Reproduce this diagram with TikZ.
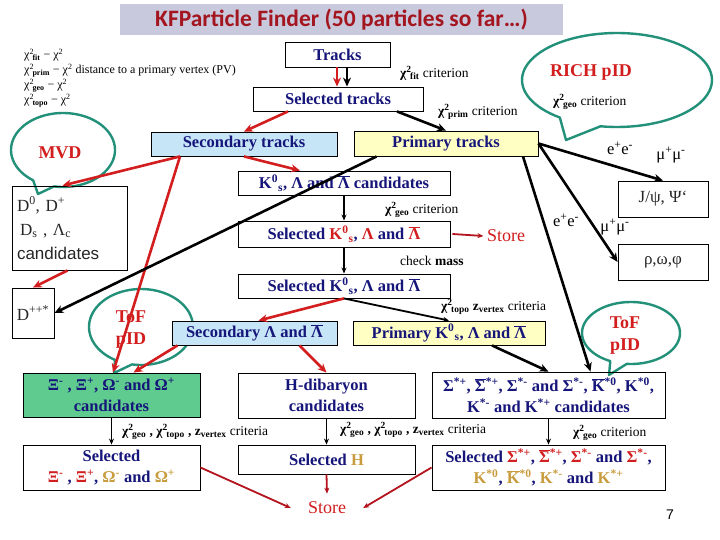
\documentclass[tikz,border=0pt]{standalone}
\usepackage{fontspec}
\setmainfont{Liberation Serif}
\newfontfamily\sansf{Liberation Sans}
\newfontfamily\titlef{Carlito}
\usetikzlibrary{arrows.meta,calc}
\definecolor{navy}{HTML}{16167A}
\definecolor{tred}{HTML}{D21E1E}
\definecolor{dred}{HTML}{B4141E}
\definecolor{gold}{HTML}{C89B3C}
\definecolor{bubblec}{HTML}{23917A}
\definecolor{lblue}{HTML}{C6E6F8}
\definecolor{lyell}{HTML}{FFFFC4}
\definecolor{lgreen}{HTML}{5FCB8E}
\definecolor{titlebg}{HTML}{C9C9DD}
\definecolor{titlefg}{HTML}{A3151F}
\newcommand\xsub[1]{\textsubscript{#1}}
\newcommand\xsup[1]{\textsuperscript{#1}}
\newcommand\ovl[1]{\ensuremath{\overline{\mbox{#1}}}}
\newcommand\chisq[1]{χ\xsup{2}\kern-1.5pt\xsub{#1}}
\newcommand\rd[1]{\textcolor{tred}{#1}}
\newcommand\gd[1]{\textcolor{gold}{#1}}
\tikzset{
  box/.style={draw=black, line width=0.9pt, inner sep=0pt, align=center, text=navy,
    font=\fontsize{16.5}{21}\selectfont\bfseries},
  lbl/.style={inner sep=1pt, anchor=west, font=\fontsize{13.5}{15}\selectfont},
  bubble/.style={draw=bubblec, line width=2.4pt, line join=round},
  btxt/.style={text=tred, font=\fontsize{18}{22}\selectfont\bfseries, inner sep=1pt},
  pm/.style={inner sep=1pt, font=\fontsize{16.5}{18}\selectfont},
  rarr/.style={draw=tred, line width=2.6pt, -{Stealth[length=9pt,width=8pt]}},
  barr/.style={draw=black, line width=2.6pt, -{Stealth[length=9pt,width=8pt]}},
  tarr/.style={draw=black, line width=1.3pt, -{Stealth[length=6pt,width=5pt]}},
  sarr/.style={draw=dred, line width=1.8pt, -{Stealth[length=6pt,width=5pt]}},
  storet/.style={text=tred, font=\fontsize{18}{22}\selectfont, inner ysep=8pt}
}
\begin{document}
\begin{tikzpicture}[x=1pt,y=-1pt]
\useasboundingbox (0,0) rectangle (720,540);
\fill[white] (0,0) rectangle (720,540);
% title
\node[fill=titlebg, minimum width=443, minimum height=31, inner sep=0pt,
  text=titlefg, font=\titlef\fontsize{23.5}{26}\selectfont\bfseries] (title) at (341.5,19.5)
  {KFParticle Finder (50 particles so far…)};
% legend
\node[anchor=north west, align=left, inner sep=0pt, font=\fontsize{12}{15}\selectfont] (legend) at (24,49)
  {\chisq{\textbf{fit}} − χ\xsup{2}\\
   \chisq{\textbf{prim}} − χ\xsup{2} distance to a primary vertex (PV)\\
   \chisq{\textbf{geo}} − χ\xsup{2}\\
   \chisq{\textbf{topo}} − χ\xsup{2}};
% bubbles
\draw[bubble] plot[domain=127:460, samples=90] ({617+95*cos(\x)},{80+47*sin(\x)}) -- (566,140) -- cycle;
\draw[bubble] plot[domain=125:460, samples=80] ({63+52*cos(\x)},{150+37*sin(\x)}) -- (38,194) -- cycle;
\draw[bubble] plot[domain=120:460, samples=80] ({141+52*cos(\x)},{327+38*sin(\x)}) -- (114,373) -- cycle;
\draw[bubble] plot[domain=115:455, samples=80] ({631+49*cos(\x)},{333+31*sin(\x)}) -- (609,375) -- cycle;
\node[btxt] (rich) at (591,72) {RICH pID};
\node[btxt] (mvd) at (60,153) {MVD};
\node[btxt] (tof1) at (131,317) {ToF};
\node[btxt] (pid1) at (131,341) {pID};
\node[btxt] (tof2) at (625,323) {ToF};
\node[btxt] (pid2) at (625,347) {pID};
% boxes
\node[box, minimum width=105, minimum height=25] (tracks) at (337.5,54.5) {Tracks};
\node[box, minimum width=170, minimum height=24] (seltr) at (338,99) {Selected tracks};
\node[box, fill=lblue, minimum width=186, minimum height=24] (sectr) at (244,144) {Secondary tracks};
\node[box, fill=lyell, minimum width=184, minimum height=25] (primtr) at (446,143.5) {Primary tracks};
\node[box, minimum width=212, minimum height=24] (k0cand) at (344,183)
  {K\xsup{0}\xsub{s}, Λ and \ovl{Λ} candidates};
\node[box, minimum width=212, minimum height=26] (selk1) at (344,234)
  {Selected \rd{K\xsup{0}\xsub{s}}, \rd{Λ} and \rd{\ovl{Λ}}};
\node[box, minimum width=212, minimum height=24] (selk2) at (344,286)
  {Selected K\xsup{0}\xsub{s}, Λ and \ovl{Λ}};
\node[box, fill=lblue, minimum width=165, minimum height=24] (secl) at (254.5,333)
  {Secondary Λ and \ovl{Λ}};
\node[box, fill=lyell, minimum width=192, minimum height=24] (primk) at (449,333)
  {Primary K\xsup{0}\xsub{s}, Λ and \ovl{Λ}};
\node[box, text width=105pt, inner sep=5pt, minimum height=84, align=left, text=black!85,
  font=\fontsize{17}{24}\selectfont] (d0) at (69.5,228)
  {D\xsup{0}, D\xsup{+}\\ \hspace*{3pt}D\xsub{s} , Λ\xsub{c}\\ {\sansf candidates}};
\node[box, minimum width=42, minimum height=50, text=black!85, font=\fontsize{17}{20}\selectfont] (dpp) at (33,313)
  {D\xsup{++*}};
\node[box, fill=lgreen, minimum width=177, minimum height=44] (xicand) at (111.5,395)
  {Ξ\xsup{-} , Ξ\xsup{+}, Ω\xsup{-} and Ω\xsup{+}\\ candidates};
\node[box, minimum width=177, minimum height=45] (selxi) at (111.5,467.5)
  {Selected\\ \rd{Ξ\xsup{-}} , \rd{Ξ\xsup{+}}, \gd{Ω\xsup{-}} and \gd{Ω\xsup{+}}};
\node[box, minimum width=177, minimum height=45] (hdib) at (326.5,395.5)
  {H-dibaryon\\ candidates};
\node[box, minimum width=177, minimum height=29] (selh) at (326.5,459.5)
  {Selected \gd{H}};
\node[box, minimum width=233, minimum height=46] (sigcand) at (548.5,395)
  {Σ\xsup{*+}, \ovl{Σ}\xsup{*+}, Σ\xsup{*-} and Σ\xsup{*-}, \ovl{K}\xsup{*0}, K\xsup{*0},\\ K\xsup{*-} and K\xsup{*+} candidates};
\node[box, minimum width=233, minimum height=45] (selsig) at (548.5,467.5)
  {Selected \rd{Σ\xsup{*+}}, \rd{\ovl{Σ}\xsup{*+}}, \rd{Σ\xsup{*-}} and \rd{Σ\xsup{*-}},\\
   \gd{K\xsup{*0}}, \gd{\ovl{K}\xsup{*0}}, \gd{K\xsup{*-}} and \gd{K\xsup{*+}}};
\node[box, minimum width=90, minimum height=36, text=black!85, font=\fontsize{17}{20}\selectfont] (jpsi) at (663,199)
  {J/ψ, Ψ‘};
\node[box, minimum width=90, minimum height=36, text=black!85, font=\fontsize{17}{20}\selectfont] (rho) at (663,262)
  {ρ,ω,φ};
% labels
\node[lbl] (l1) at (399,73) {\textbf{\chisq{fit}} criterion};
\node[lbl] (l2) at (437,112) {\textbf{\chisq{prim}} criterion};
\node[lbl] (l3) at (552,102) {\textbf{\chisq{geo}} criterion};
\node[lbl] (l4) at (384,210) {\textbf{\chisq{geo}} criterion};
\node[lbl] (l5) at (399,261) {check \textbf{mass}};
\node[lbl] (l6) at (440,307) {\textbf{\chisq{topo} z\xsub{vertex}} criteria};
\node[lbl] (l7) at (121,432) {\textbf{\chisq{geo} , \chisq{topo} , z\xsub{vertex}} criteria};
\node[lbl] (l8) at (339,430) {\textbf{\chisq{geo} , \chisq{topo} , z\xsub{vertex}} criteria};
\node[lbl] (l9) at (572,433) {\textbf{\chisq{geo}} criterion};
\node[pm] (ee1) at (620,148) {e\xsup{+}e\xsup{-}};
\node[pm] (mm1) at (671,155) {μ\xsup{+}μ\xsup{-}};
\node[pm] (ee2) at (566,220) {e\xsup{+}e\xsup{-}};
\node[pm] (mm2) at (615,227) {μ\xsup{+}μ\xsup{-}};
\node[storet] (store1) at (506,236) {Store};
\node[storet, inner xsep=17pt] (store2) at (327,508) {Store};
\node[font=\sansf\fontsize{14}{16}\selectfont] (pnum) at (670,515) {7};
% arrows
\draw[rarr] ([xshift=-0.5pt]tracks.south) -- ([xshift=-1pt]seltr.north);
\draw[barr] ([xshift=9.5pt]tracks.south) -- ([xshift=9pt]seltr.north);
\draw[rarr] ([xshift=-50pt]seltr.south) -- (sectr.north);
\draw[barr] ([xshift=59pt]seltr.south) -- (primtr.north);
\draw[rarr] (sectr.south) -- ([xshift=-44pt]k0cand.north);
\draw[rarr] ([xshift=-64pt]sectr.south) -- ([xshift=-7pt]d0.north);
\draw[rarr] ([xshift=-64pt]sectr.south) -- ([xshift=1.5pt]xicand.north);
\draw[barr] ([xshift=23pt]primtr.south west) -- (dpp.east);
\draw[rarr] ([xshift=-2pt]d0.south) -- (dpp.north);
\draw[tarr] (k0cand.south) -- (selk1.north);
\draw[sarr] ([xshift=2pt]selk1.east) -- (store1.west);
\draw[tarr] (selk1.south) -- (selk2.north);
\draw[rarr] (selk2.south) -- ([xshift=4pt]secl.north);
\draw[tarr, line width=1.8pt] (selk2.south) -- (primk.north);
\draw[rarr] ([xshift=45pt]secl.south) -- (hdib.north);
\draw[rarr] ([xshift=-77pt]secl.south) -- ([xshift=22pt]xicand.north);
\draw[barr] ([xshift=43pt]primk.south) -- (sigcand.north);
\draw[barr] ([xshift=77pt]primtr.south) -- ([xshift=42pt]sigcand.north);
\draw[barr] (primtr.east) -- (jpsi.north);
\draw[barr] (primtr.east) -- (rho.west);
\draw[tarr] (xicand.south) -- (selxi.north);
\draw[tarr] (hdib.south) -- (selh.north);
\draw[tarr] (sigcand.south) -- (selsig.north);
\draw[sarr] (selxi.east) -- (store2.west);
\draw[sarr] (selh.south) -- (store2.north);
\draw[sarr] (selsig.west) -- (store2.east);
\end{tikzpicture}
\end{document}
